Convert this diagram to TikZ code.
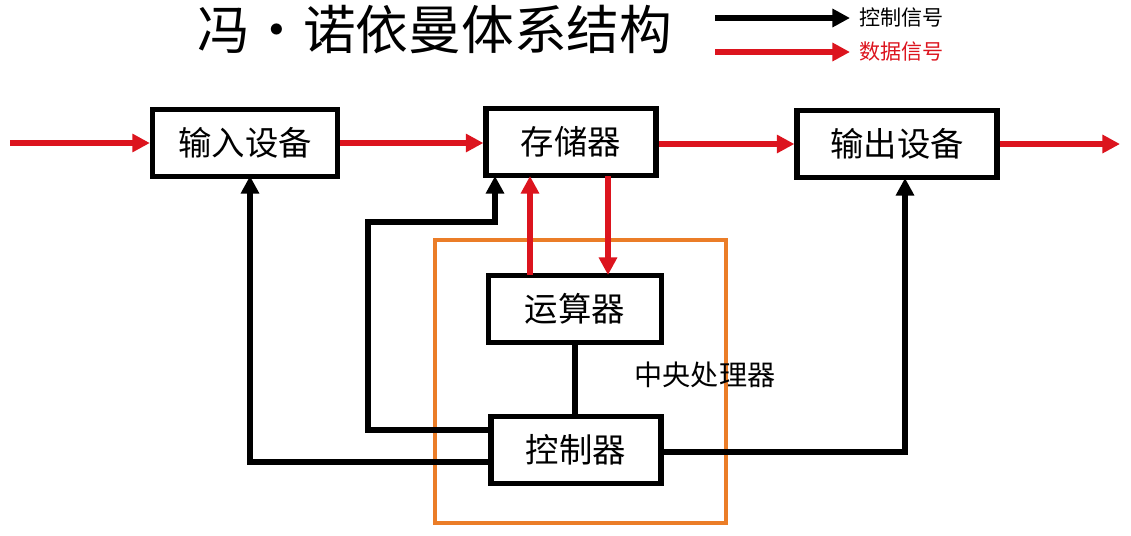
\documentclass[tikz,border=0pt]{standalone}
\usepackage{fontspec}
\newfontfamily\cjk{Noto Sans CJK SC}
\usetikzlibrary{arrows.meta}
\definecolor{dred}{RGB}{220,20,30}
\definecolor{org}{RGB}{235,125,40}
\begin{document}
\begin{tikzpicture}[x=0.02cm,y=-0.02cm,
 box/.style={draw,line width=3pt,minimum height=1.35cm,font=\cjk\fontsize{19}{21}\selectfont,inner sep=0pt},
 blk/.style={line width=3pt,-{Triangle[length=10pt,width=10pt]}},
 red/.style={blk,draw=dred}]
\useasboundingbox (0,0) rectangle (1131,535);
\node[font=\cjk\fontsize{30}{32}\selectfont] (title) at (435,30) {冯·诺依曼体系结构};
\coordinate (l1a) at (715,18); \coordinate (l1b) at (850,18);
\coordinate (l2a) at (715,52); \coordinate (l2b) at (850,52);
\draw[blk] (l1a) -- (l1b);
\draw[red] (l2a) -- (l2b);
\node[anchor=west,font=\cjk\fontsize{12}{14}\selectfont] (t1) at (853,18) {控制信号};
\node[anchor=west,font=\cjk\fontsize{12}{14}\selectfont,text=dred] (t2) at (853,52) {数据信号};
\draw[org,line width=2pt] (435,240) rectangle (726,523);
\node[font=\cjk\fontsize{16}{18}\selectfont] (cpu) at (705,375) {中央处理器};
\node[box,minimum width=3.7cm] (in) at (245,143) {输入设备};
\node[box,minimum width=3.4cm] (mem) at (571,142) {存储器};
\node[box,minimum width=4.0cm] (out) at (897,144) {输出设备};
\node[box,minimum width=3.45cm] (alu) at (575,309) {运算器};
\node[box,minimum width=3.4cm] (cu) at (576,450) {控制器};
\coordinate (s) at (10,143); \coordinate (e) at (1120,143);
\draw[red] (s) -- (in.west);
\draw[red] (in.east) -- (mem.west|-in.east);
\draw[red] (mem.east|-out.west) -- (out.west);
\draw[red] (out.east) -- (e|-out.east);
\draw[red] (530,275) -- (530,176);
\draw[red] (608,176) -- (608,275);
\draw[line width=3pt] (alu.south) -- (alu.south|-cu.north);
\draw[blk] (cu.west|-0,462) -- (250,462) -- (250,176);
\draw[blk] (cu.west|-0,430) -- (368,430) -- (368,222) -- (495,222) -- (495,176);
\draw[blk] (cu.east|-0,452) -- (905,452) -- (905,178);
\end{tikzpicture}
\end{document}
